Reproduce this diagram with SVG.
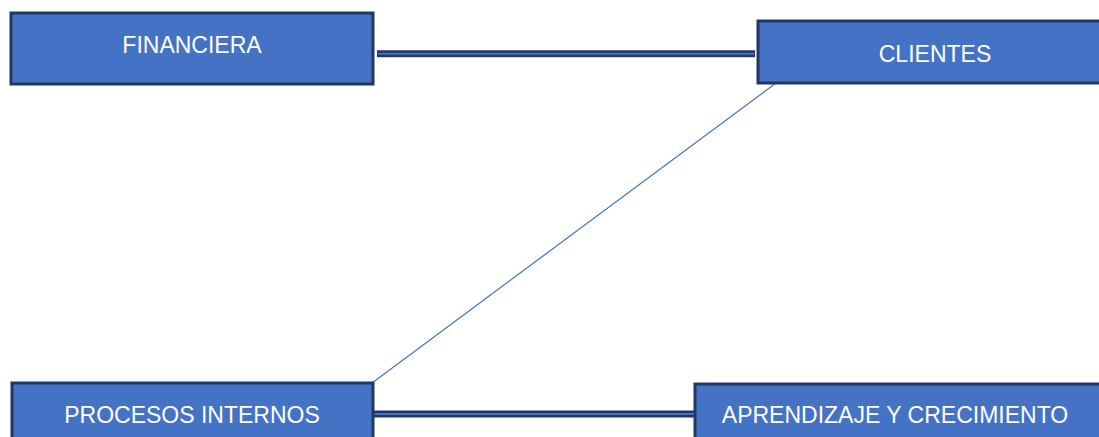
<svg xmlns="http://www.w3.org/2000/svg" width="1099" height="437" viewBox="0 0 1099 437">
<style>
.box{fill:#4472C4;stroke:#1F3864;stroke-width:3}
.lbl{font-family:"Liberation Sans",Arial,sans-serif;font-size:23px;fill:#FFFFFF;text-anchor:middle}
.outer{stroke:#1F3864;stroke-width:7;fill:none}
.inner{stroke:#4472C4;stroke-width:2;fill:none}
.thin{stroke:#4472C4;stroke-width:1.2;fill:none}
</style>
<rect width="1099" height="437" fill="#FFFFFF"/>
<g id="connectors">
<line class="outer" x1="377" y1="53.7" x2="755" y2="53.7"/>
<line class="inner" x1="378" y1="53.7" x2="754" y2="53.7"/>
<line class="outer" x1="373" y1="414" x2="698" y2="414"/>
<line class="inner" x1="374" y1="414" x2="697" y2="414"/>
<line class="thin" x1="776" y1="83" x2="372" y2="383"/>
</g>
<g id="financiera">
<rect class="box" x="11" y="13" width="362" height="71"/>
<text class="lbl" x="192" y="53">FINANCIERA</text>
</g>
<g id="clientes">
<rect class="box" x="758" y="21" width="360" height="62"/>
<text class="lbl" x="935" y="62">CLIENTES</text>
</g>
<g id="procesos">
<rect class="box" x="12" y="383" width="361" height="70"/>
<text class="lbl" x="192" y="423">PROCESOS INTERNOS</text>
</g>
<g id="aprendizaje">
<rect class="box" x="695" y="384" width="410" height="70"/>
<text class="lbl" x="895" y="423">APRENDIZAJE Y CRECIMIENTO</text>
</g>
</svg>
